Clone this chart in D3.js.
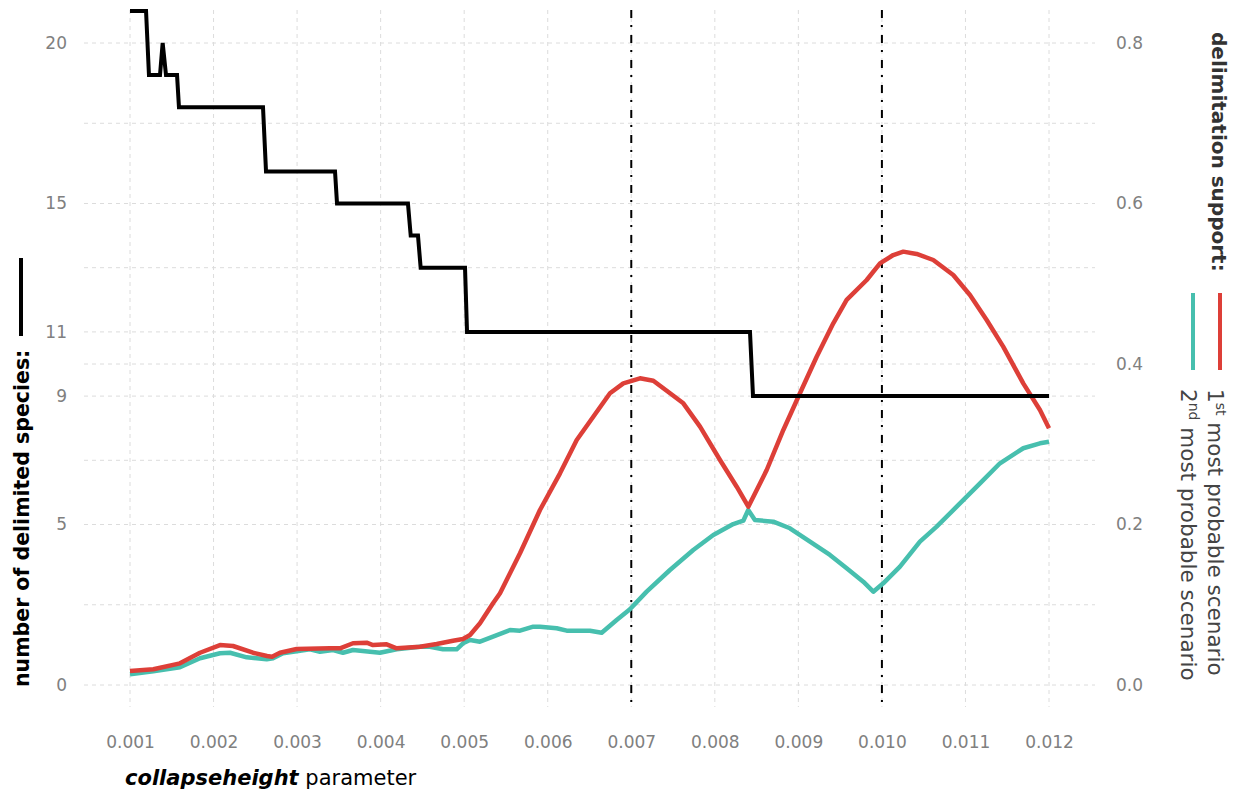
<!DOCTYPE html>
<html>
<head>
<meta charset="utf-8">
<script src="https://cdn.jsdelivr.net/npm/d3@7"></script>
<style>
  body { margin: 0; background: #fff; }
  svg text { font-family: "DejaVu Sans", sans-serif; }
</style>
</head>
<body>
<div id="chart-area"></div>
<script>
// x ticks (collapseheight parameter)
let xTicks = [0.001, 0.002, 0.003, 0.004, 0.005, 0.006, 0.007, 0.008, 0.009, 0.010, 0.011, 0.012];
// left axis breaks (number of species) and ggplot-like minor breaks
let speciesTicks = [0, 5, 9, 11, 15, 20];
let speciesMinor = [2.5, 7, 10, 13, 17.5];
// right axis breaks (support)
let supportTicks = [0.0, 0.2, 0.4, 0.6, 0.8];
// marked parameter values
let markers = [0.007, 0.010];

// number of delimited species: [parameter, count]
let species = [
	[0.001, 21], [0.001192, 21], [0.001227, 19], [0.001359, 19], [0.001391, 20], [0.001431, 19],
	[0.001563, 19], [0.001586, 18], [0.002592, 18], [0.002628, 16], [0.003454, 16], [0.003478, 15],
	[0.004327, 15], [0.004360, 14], [0.004447, 14], [0.004479, 13], [0.005010, 13], [0.005034, 11],
	[0.008421, 11], [0.008457, 9], [0.012, 9]
];

// 1st most probable scenario support: [parameter, support]
let firstScenario = [
	[0.00100, 0.0174], [0.001279, 0.0196], [0.001598, 0.0270], [0.001838, 0.0402], [0.002077, 0.0498],
	[0.002233, 0.0486], [0.002472, 0.0402], [0.002640, 0.0361], [0.002700, 0.0353], [0.002795, 0.0402],
	[0.002995, 0.0449], [0.003394, 0.0457], [0.003514, 0.0457], [0.003669, 0.0520], [0.003833, 0.0527],
	[0.003908, 0.0498], [0.004072, 0.0507], [0.004192, 0.0457], [0.004471, 0.0477], [0.004671, 0.0511],
	[0.004866, 0.0552], [0.004986, 0.0573], [0.005070, 0.0623], [0.005189, 0.0769], [0.005345, 0.1018],
	[0.005429, 0.1143], [0.005668, 0.1641], [0.005907, 0.2181], [0.006147, 0.2638], [0.006347, 0.3053],
	[0.006545, 0.3343], [0.006745, 0.3635], [0.006905, 0.3759], [0.007104, 0.3822], [0.007264, 0.3792],
	[0.007464, 0.3635], [0.007623, 0.3510], [0.007823, 0.3219], [0.008062, 0.2804], [0.008262, 0.2471],
	[0.008401, 0.2222], [0.008621, 0.2679], [0.008820, 0.3178], [0.009019, 0.3635], [0.009219, 0.4091],
	[0.009418, 0.4507], [0.009578, 0.4798], [0.009818, 0.5047], [0.009977, 0.5255], [0.010136, 0.5358],
	[0.010256, 0.5400], [0.010416, 0.5371], [0.010615, 0.5296], [0.010854, 0.5109], [0.011054, 0.4860],
	[0.011254, 0.4548], [0.011452, 0.4216], [0.011692, 0.3759], [0.011892, 0.3427], [0.012, 0.3199]
];

// 2nd most probable scenario support: [parameter, support]
let secondScenario = [
	[0.00100, 0.0133], [0.001279, 0.0171], [0.001598, 0.0221], [0.001838, 0.0333], [0.002077, 0.0395],
	[0.002197, 0.0402], [0.002397, 0.0345], [0.002636, 0.0320], [0.002712, 0.0333], [0.002831, 0.0395],
	[0.003035, 0.0427], [0.003154, 0.0445], [0.003274, 0.0415], [0.003430, 0.0436], [0.003549, 0.0402],
	[0.003669, 0.0436], [0.003873, 0.0415], [0.003992, 0.0402], [0.004192, 0.0445], [0.004471, 0.0477],
	[0.004591, 0.0477], [0.004746, 0.0445], [0.004910, 0.0445], [0.004986, 0.0520], [0.005070, 0.0561],
	[0.005189, 0.0540], [0.005345, 0.0602], [0.005548, 0.0685], [0.005668, 0.0677], [0.005827, 0.0727],
	[0.005907, 0.0727], [0.006107, 0.0707], [0.006227, 0.0677], [0.006506, 0.0677], [0.006646, 0.0652],
	[0.006825, 0.0810], [0.006984, 0.0943], [0.007184, 0.1163], [0.007463, 0.1433], [0.007742, 0.1682],
	[0.007982, 0.1869], [0.008221, 0.2006], [0.008341, 0.2047], [0.008400, 0.2181], [0.008480, 0.2056],
	[0.008700, 0.2035], [0.008899, 0.1953], [0.009139, 0.1786], [0.009378, 0.1620], [0.009578, 0.1454],
	[0.009777, 0.1287], [0.009897, 0.1163], [0.010016, 0.1267], [0.010216, 0.1474], [0.010455, 0.1786],
	[0.010655, 0.1973], [0.010895, 0.2222], [0.011174, 0.2513], [0.011413, 0.2763], [0.011692, 0.2950],
	[0.011892, 0.3012], [0.012, 0.3032]
];

let red = "#dd3f38";
let teal = "#47bfae";
let tickGrey = "#808080";

// set width, height
let width = 1241;
let height = 793;

let svg = d3.select("#chart-area").append("svg")
	.attr("width", width)
	.attr("height", height);

// scales (right axis = left axis / 25)
let x = d3.scaleLinear().domain([0.001, 0.012]).range([130, 1049]);
let yLeft = d3.scaleLinear().domain([0, 20]).range([685, 43]);
let yRight = d3.scaleLinear().domain([0, 0.8]).range([685, 43]);

let panelTop = 10, panelBottom = 707, panelLeft = 84, panelRight = 1095;

// grid
let grid = svg.append("g").attr("class", "grid")
	.style("stroke", "#dcdcdc")
	.style("stroke-width", 1)
	.style("stroke-dasharray", "4,4");

grid.selectAll(".hgrid")
	.data(speciesTicks.concat(speciesMinor))
	.enter().append("line")
	.attr("x1", panelLeft).attr("x2", panelRight)
	.attr("y1", d => yLeft(d)).attr("y2", d => yLeft(d));

grid.selectAll(".vgrid")
	.data(xTicks)
	.enter().append("line")
	.attr("x1", d => x(d)).attr("x2", d => x(d))
	.attr("y1", panelTop).attr("y2", panelBottom);

// axes (no domain line, no ticks)
let xAxis = svg.append("g")
	.attr("transform", "translate(0," + panelBottom + ")")
	.call(d3.axisBottom(x).tickValues(xTicks).tickFormat(d3.format(".3f")).tickSize(0).tickPadding(29));

let leftAxis = svg.append("g")
	.attr("transform", "translate(" + (panelLeft - 17) + ",0)")
	.call(d3.axisLeft(yLeft).tickValues(speciesTicks).tickSize(0).tickPadding(0));

let rightAxis = svg.append("g")
	.attr("transform", "translate(" + (panelRight + 21) + ",0)")
	.call(d3.axisRight(yRight).tickValues(supportTicks).tickFormat(d3.format(".1f")).tickSize(0).tickPadding(0));

[xAxis, leftAxis, rightAxis].forEach(a => {
	a.select(".domain").remove();
	a.selectAll("text")
		.style("font-family", "'DejaVu Sans', sans-serif")
		.style("font-size", "17px")
		.style("fill", tickGrey);
});

// line generators
let speciesLine = d3.line()
	.x(d => x(d[0]))
	.y(d => yLeft(d[1]));

let supportLine = d3.line()
	.x(d => x(d[0]))
	.y(d => yRight(d[1]));

// marked parameter values
svg.selectAll(".marker")
	.data(markers)
	.enter().append("line")
	.attr("class", "marker")
	.attr("x1", d => x(d)).attr("x2", d => x(d))
	.attr("y1", panelTop).attr("y2", panelBottom)
	.style("stroke", "#000")
	.style("stroke-width", 2)
	.style("stroke-dasharray", "8,7,2,8");

svg.append("path")
	.datum(secondScenario)
	.attr("d", supportLine)
	.style("fill", "none")
	.style("stroke", teal)
	.style("stroke-width", 4.5)
	.style("stroke-linejoin", "round");

svg.append("path")
	.datum(firstScenario)
	.attr("d", supportLine)
	.style("fill", "none")
	.style("stroke", red)
	.style("stroke-width", 4.5)
	.style("stroke-linejoin", "round");

svg.append("path")
	.datum(species)
	.attr("d", speciesLine)
	.style("fill", "none")
	.style("stroke", "#000")
	.style("stroke-width", 4);

// x axis title
let xTitle = svg.append("text")
	.attr("x", 125)
	.attr("y", 785)
	.style("font-size", "21px")
	.style("fill", "#000");
xTitle.append("tspan").text("collapseheight").style("font-weight", "bold").style("font-style", "italic");
xTitle.append("tspan").text(" parameter");

// left title + legend key
svg.append("text")
	.attr("transform", "translate(29,687) rotate(-90)")
	.style("font-size", "20.5px")
	.style("font-weight", "bold")
	.style("fill", "#000")
	.text("number of delimited species:");

svg.append("line")
	.attr("x1", 21).attr("x2", 21)
	.attr("y1", 258).attr("y2", 336)
	.style("stroke", "#000")
	.style("stroke-width", 4);

// right title + legend keys
svg.append("text")
	.attr("transform", "translate(1212,32) rotate(90)")
	.style("font-size", "20px")
	.style("font-weight", "bold")
	.style("fill", "#333")
	.text("delimitation support:");

let legendKeys = [
	{x: 1220, color: red, sup: "st", n: "1", label: " most probable scenario"},
	{x: 1193, color: teal, sup: "nd", n: "2", label: " most probable scenario"}
];

svg.selectAll(".legend-key")
	.data(legendKeys)
	.enter().append("line")
	.attr("x1", d => d.x).attr("x2", d => d.x)
	.attr("y1", 293).attr("y2", 370)
	.style("stroke", d => d.color)
	.style("stroke-width", 4);

legendKeys.forEach(d => {
	let t = svg.append("text")
		.attr("transform", "translate(" + (d.x - 12) + ",389) rotate(90)")
		.style("font-size", "21.5px")
		.style("fill", "#444");
	t.append("tspan").text(d.n);
	t.append("tspan").text(d.sup).attr("dy", -8).style("font-size", "14px");
	t.append("tspan").text(d.label).attr("dy", 8);
});
</script>
</body>
</html>
